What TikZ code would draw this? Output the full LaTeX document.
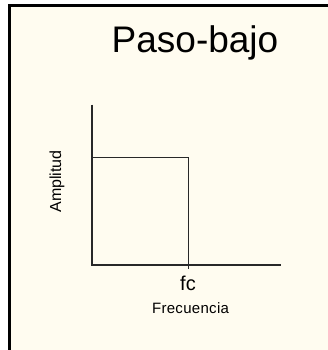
\documentclass[tikz,border=0pt]{standalone}
\usepackage{fontspec}
\setmainfont{Liberation Sans}
\definecolor{cream}{RGB}{255,252,240}
\definecolor{axisgray}{RGB}{40,40,40}
\begin{document}
\begin{tikzpicture}[x=1pt,y=-1pt,
  axisline/.style={draw=axisgray,line width=1.6pt},
  framelines/.style={draw=black,line width=2.7pt},
  lbl/.style={inner sep=0pt,anchor=base,text=black}]
\useasboundingbox (0,0) rectangle (328,350);
\fill[white] (0,0) rectangle (328,350);
\fill[cream] (8,4) rectangle (328,350);
\draw[framelines] (9.35,350) -- (9.35,5.35) -- (328,5.35);
% axes and curve
\coordinate (ytop) at (91.7,104.5);
\coordinate (origin) at (91.7,265);
\coordinate (xend) at (281,265);
\coordinate (ctopl) at (91.7,157.5);
\coordinate (ctopr) at (188.5,157.5);
\coordinate (cbot) at (188.5,268.5);
\draw[axisline] (ytop) -- (origin) -- (xend);
\draw[axisline] (ctopl) -- (ctopr) -- (cbot);
% texts
\node[lbl,font=\fontsize{37}{37}\selectfont] (title) at (195,53) {Paso-bajo};
\node[lbl,font=\fontsize{20}{20}\selectfont] (fc) at (188,290) {fc};
\node[lbl,font=\fontsize{15}{15}\selectfont] (xlab) at (190.5,313) {F\kern0.4pt r\kern0.3pt e\kern0.3pt c\kern0.3pt u\kern0.3pt e\kern0.3pt n\kern0.3pt c\kern0.3pt i\kern0.3pt a};
\node[inner sep=0pt,rotate=90,font=\fontsize{16}{16}\selectfont] (ylab) at (57,181.5) {Amplitud};
\end{tikzpicture}
\end{document}
